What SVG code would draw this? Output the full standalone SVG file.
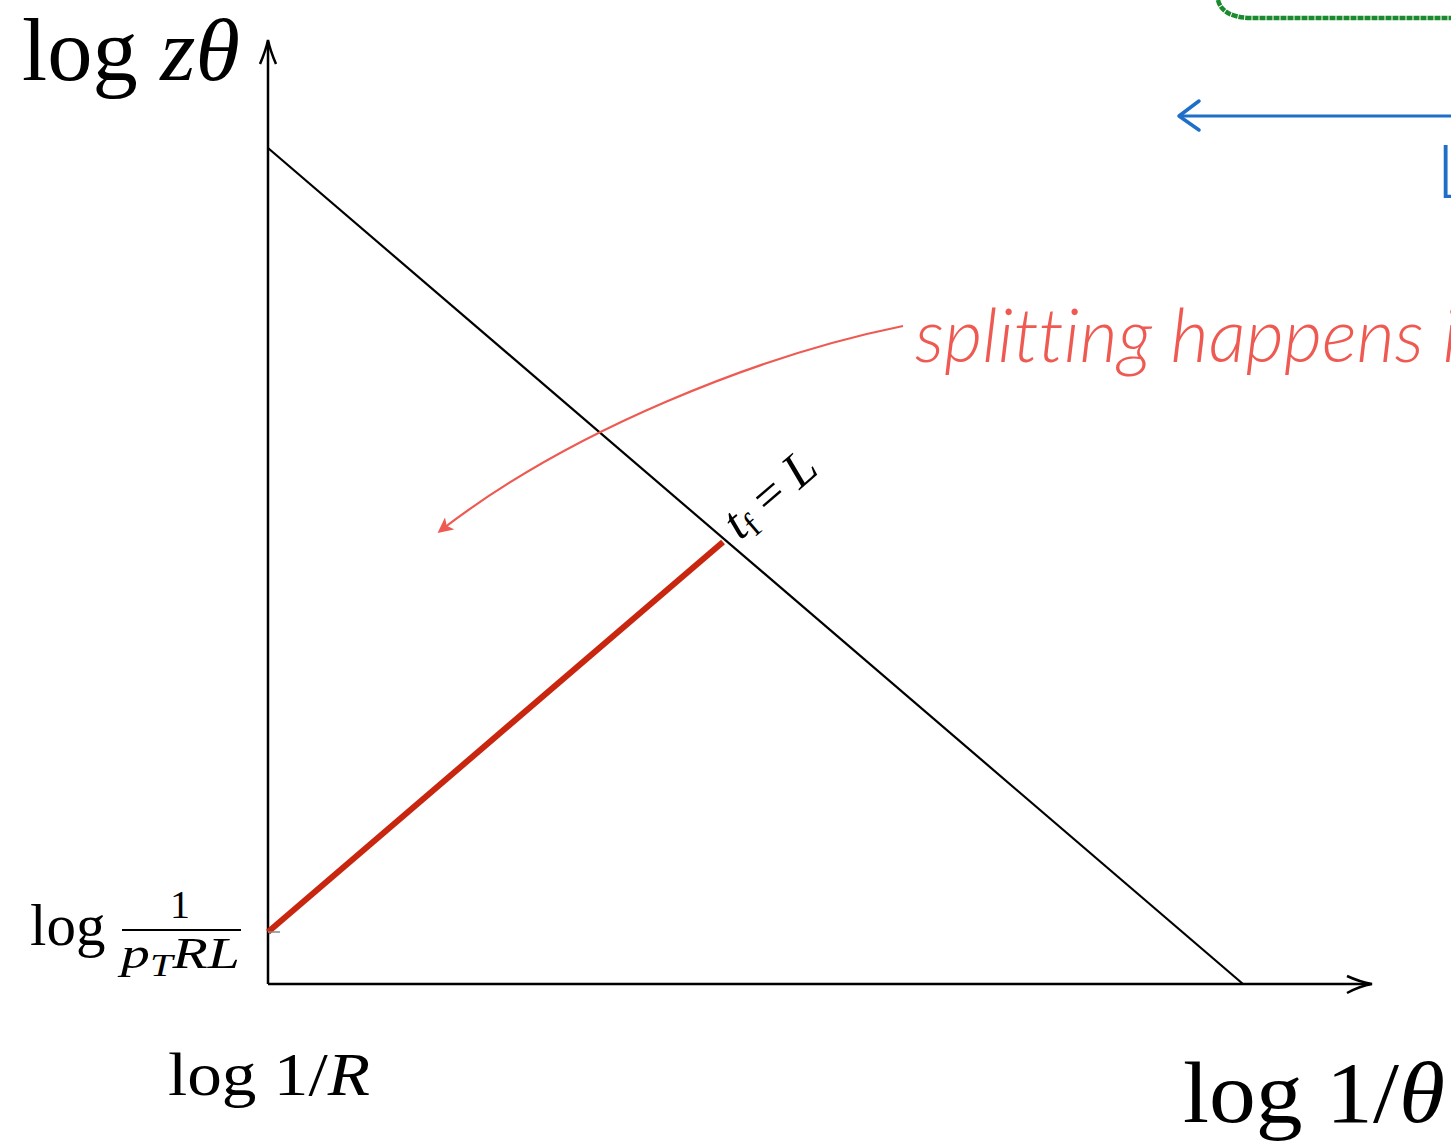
<svg xmlns="http://www.w3.org/2000/svg" width="1451" height="1146" viewBox="0 0 1451 1146">
<style>
.m{font-family:"Liberation Serif","DejaVu Serif",serif;fill:#000}
.i{font-style:italic}
.ax{stroke:#000;stroke-width:2.5;fill:none}
</style>
<defs>
<marker id="rh" viewBox="0 0 10 10" refX="8" refY="5" markerWidth="7" markerHeight="7" orient="auto" markerUnits="strokeWidth">
<path d="M0,0 L10,5 L0,10 L2.5,5 Z" fill="#ee5a52"/>
</marker>
</defs>
<rect width="1451" height="1146" fill="#fff"/>
<g id="connectors">
<path class="ax" d="M268,984 L268,42"/>
<path class="ax" d="M260,64 Q266,50 268,40 Q270,50 276,64"/>
<path class="ax" d="M268,984 L1370,984"/>
<path class="ax" d="M1347,976 Q1360,982 1372,984 Q1360,986 1347,993"/>
<path d="M268,148 L1243,984" stroke="#000" stroke-width="2.2" fill="none"/>
<path d="M268,932 L723,542" stroke="#c8260f" stroke-width="6" fill="none"/>
<path d="M268,932 L280,932" stroke="#888" stroke-width="1.5"/>
<path d="M903,326 C760,355 570,430 440,531" stroke="#ee5a52" stroke-width="2.2" fill="none" marker-end="url(#rh)"/>
<path d="M1218,0 Q1222,17 1250,18 L1451,18" stroke="#1b8a2e" stroke-width="4.5" fill="none" stroke-dasharray="6 1"/>
<path d="M1451,116 L1182,116" stroke="#1f6fc8" stroke-width="3" fill="none"/>
<path d="M1199,101 L1179,116 L1199,130" stroke="#1f6fc8" stroke-width="3.5" fill="none" stroke-linecap="round" stroke-linejoin="round"/>
</g>
<g id="ylabel"><text class="m" x="22" y="80" font-size="88" textLength="218" lengthAdjust="spacingAndGlyphs">log <tspan class="i">zθ</tspan></text></g>
<g id="ytick"><text class="m" x="30" y="945" font-size="59">log</text>
<text class="m" x="170" y="918" font-size="40">1</text>
<path d="M122,930 L241,930" stroke="#000" stroke-width="2"/>
<text class="m i" x="121" y="968" font-size="44" textLength="119" lengthAdjust="spacingAndGlyphs">p<tspan font-size="31" dy="8">T</tspan><tspan dy="-8">RL</tspan></text></g>
<g id="xtick"><text class="m" x="168" y="1095" font-size="62" textLength="202" lengthAdjust="spacingAndGlyphs">log 1/<tspan class="i">R</tspan></text></g>
<g id="xlabel"><text class="m" x="1183" y="1122" font-size="86" textLength="262" lengthAdjust="spacingAndGlyphs">log 1/<tspan class="i">θ</tspan></text></g>
<g id="tflabel"><text class="m" transform="translate(740,541) rotate(-40.6)" font-size="50"><tspan class="i">t</tspan><tspan font-size="34" dy="7">f</tspan><tspan dy="-7"> = </tspan><tspan class="i">L</tspan></text></g>
<g id="note"><text x="915" y="362" font-family="Lato,'Open Sans',sans-serif" font-style="italic" font-weight="300" font-size="74" fill="#ee5a52" style="font-variant-ligatures:none">splitting happens i</text></g>
<g id="Llabel"><text x="1436" y="198" font-family="Lato,'Open Sans',sans-serif" font-weight="300" font-size="74" fill="#1f6fc8">L</text></g>
</svg>
